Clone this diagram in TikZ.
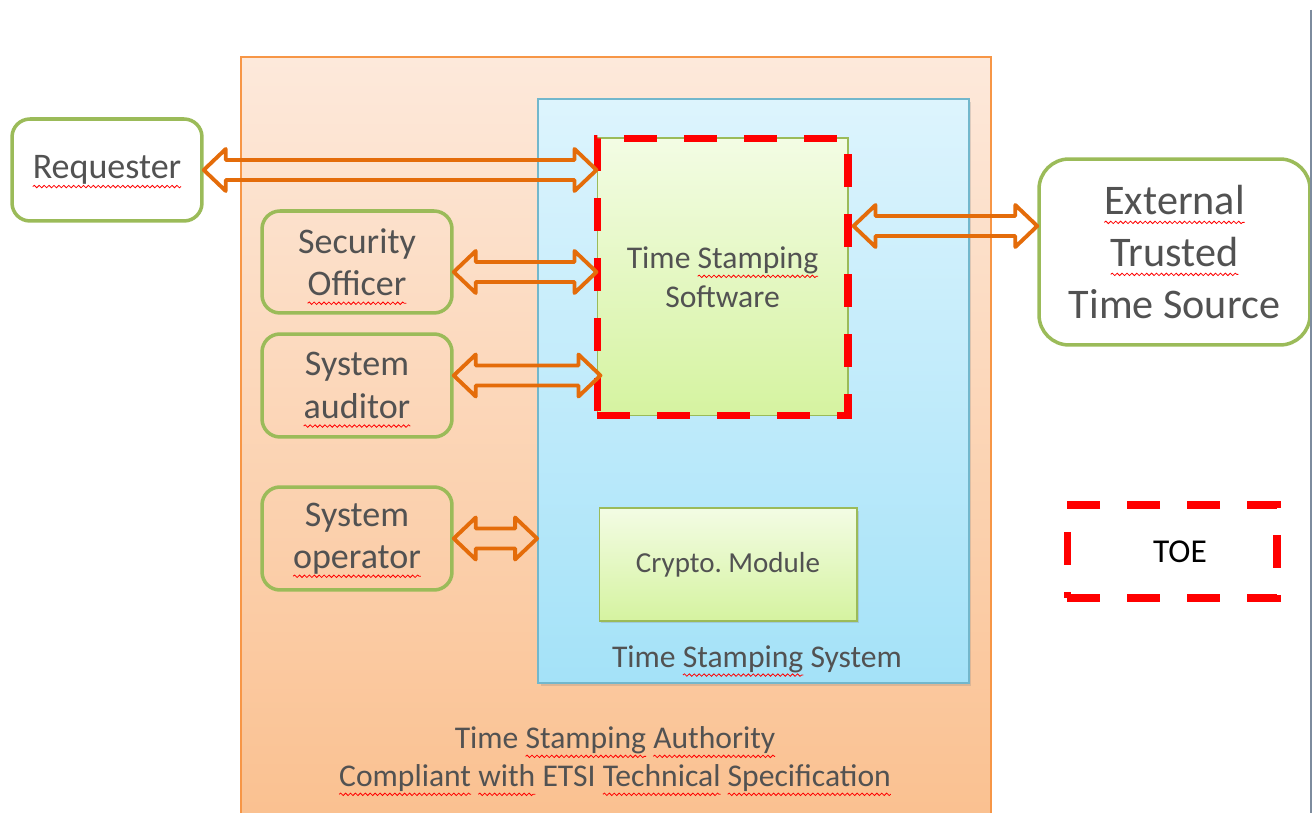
\documentclass[tikz,border=0pt]{standalone}
\usepackage{fontspec}
\setmainfont{Carlito}
\usetikzlibrary{calc,shadows,decorations.pathmorphing}
\definecolor{txtgray}{HTML}{525252}
\definecolor{boxgreen}{HTML}{9BBB59}
\definecolor{arrorange}{HTML}{E46C0A}
\definecolor{tsaline}{HTML}{F79646}
\definecolor{tsatop}{HTML}{FDE9DB}
\definecolor{tsabot}{HTML}{FAC08F}
\definecolor{sysline}{HTML}{72B7CC}
\definecolor{systop}{HTML}{DDF4FD}
\definecolor{sysbot}{HTML}{A4E2F8}
\definecolor{swtop}{HTML}{F3FCE4}
\definecolor{swbot}{HTML}{D5F3A0}
\definecolor{winline}{HTML}{7D8C9E}
% red wavy underline of the spell checker
\newcommand\spell[1]{\tikz[baseline=(w.base),x=1pt,y=1pt,sharp corners]{\node[inner sep=0pt,outer sep=0pt,minimum width=0pt,minimum height=0pt,draw=none,fill=none,align=left] (w) {#1};
  \draw[overlay,red,line width=0.45pt,solid,decorate,decoration={snake,amplitude=0.7pt,segment length=2.8pt}] ([yshift=-4.5pt]w.base west) -- ([yshift=-4.5pt]w.base east);}}
\begin{document}
\begin{tikzpicture}[x=0.02cm,y=-0.02cm]
\tikzstyle{actor} = [draw=boxgreen,line width=2pt,rounded corners=0.36cm,text=txtgray,align=center,font=\fontsize{20.5}{24}\selectfont,minimum width=3.8cm];
\tikzstyle{tsa} = [draw=tsaline,line width=1.1pt,top color=tsatop,bottom color=tsabot,minimum width=15cm,minimum height=15.46cm];
\tikzstyle{sys} = [draw=sysline,line width=1.1pt,top color=systop,bottom color=sysbot,drop shadow={shadow xshift=0.05cm,shadow yshift=-0.06cm,opacity=0.25}];
\tikzstyle{module} = [draw=boxgreen,line width=0.6pt,top color=swtop,bottom color=swbot,text=txtgray,align=center,font=\fontsize{18}{22}\selectfont];
\tikzstyle{toe} = [draw=red,line width=4pt,dash pattern=on 0.66cm off 0.54cm];
\tikzstyle{boxtitle} = [text=txtgray,align=center,font=\fontsize{18}{21.6}\selectfont];
\tikzstyle{blk} = [draw=arrorange,line width=2.2pt,line join=round,
  to path={let \p1=(\tikztostart), \p2=(\tikztotarget) in
    (\x1,\y1) -- (\x1+0.44cm,\y1+0.42cm) -- (\x1+0.44cm,\y1+0.2cm) -- (\x2-0.44cm,\y1+0.2cm)
    -- (\x2-0.44cm,\y1+0.42cm) -- (\x2,\y1) -- (\x2-0.44cm,\y1-0.42cm) -- (\x2-0.44cm,\y1-0.2cm)
    -- (\x1+0.44cm,\y1-0.2cm) -- (\x1+0.44cm,\y1-0.42cm) -- cycle}];
\useasboundingbox (0,0) rectangle (1314,813);
\clip (0,0) rectangle (1314,813);

\node [tsa] (v10) at (616,443.5) {};
\node [sys,minimum width=8.62cm,minimum height=11.68cm] (v6) at (753.5,391) {};
\node [module,minimum width=5.02cm,minimum height=5.56cm,postaction={toe}] (v7) at (722.5,277) {Time \spell{Stamping}\\Software};
\node [module,minimum width=5.16cm,minimum height=2.26cm,font=\fontsize{16.5}{20}\selectfont,drop shadow={shadow xshift=0.04cm,shadow yshift=-0.05cm,opacity=0.25}] (v8) at (728,564.5) {Crypto.\ Module};

\node [actor,fill=white,minimum height=2.04cm] (v1) at (107,170) {\spell{Requester}};
\node [actor,minimum height=2.04cm] (v2) at (357,262) {Security\\\spell{Officer}};
\node [actor,minimum height=2.06cm] (v3) at (357,385.5) {System\\\spell{auditor}};
\node [actor,minimum height=2.06cm] (v4) at (357,538.5) {System\\\spell{operator}};
\node [actor,fill=white,rounded corners=0.6cm,minimum width=5.42cm,minimum height=3.72cm,font=\fontsize{24}{29.6}\selectfont] (v5) at (1174.5,252) {\spell{External}\\\spell{Trusted}\\Time Source};

\draw [blk] (v1.east) to (v7.west |- v1.east);
\draw [blk] ([yshift=-0.2cm]v2.east) to ([yshift=-0.2cm]v7.west |- v2.east);
\draw [blk] ([yshift=0.2cm]v3.east) to ([xshift=0.08cm,yshift=0.2cm]v7.west |- v3.east);
\draw [blk] (v4.east) to (v6.west |- v4.east);
\draw [blk] ([xshift=0.1cm,yshift=1.02cm]v7.east) to ([yshift=1.02cm]v5.west |- v7.east);

\node [boxtitle] (t1) at (757,659) {Time \spell{Stamping} System};
\node [boxtitle] (t2) at (615,759) {Time \spell{Stamping} \spell{Authority}\\\spell{Compliant} \spell{with} ETSI \spell{Technical} \spell{Specification}};

\node [toe,minimum width=4.2cm,minimum height=1.86cm,font=\fontsize{19}{22}\selectfont,text=black] (v9) at (1172,551.5) {\hspace*{0.32cm}TOE};

\draw [winline,line width=1.2pt] (1311,10) -- (1311,813);
\end{tikzpicture}
\end{document}
